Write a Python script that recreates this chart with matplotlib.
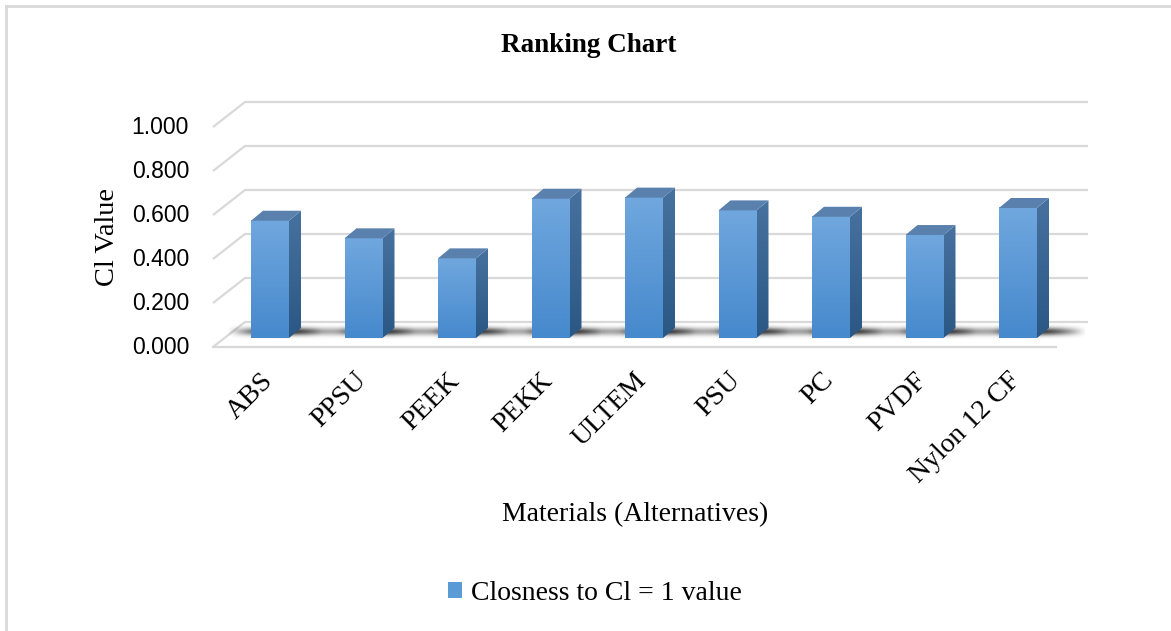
import numpy as np
import matplotlib
matplotlib.use('Agg')
import matplotlib.pyplot as plt
from matplotlib.patches import Polygon, Patch
from matplotlib.colors import to_rgb

# data
materials = ['ABS', 'PPSU', 'PEEK', 'PEKK', 'ULTEM', 'PSU', 'PC', 'PVDF', 'Nylon 12 CF']
cl_values = [0.533, 0.453, 0.362, 0.633, 0.638, 0.580, 0.551, 0.468, 0.591]
y_ticks = [0.0, 0.2, 0.4, 0.6, 0.8, 1.0]

W, H = 1171, 631
SERIF = 'Liberation Serif'

fig = plt.figure(figsize=(W / 100, H / 100), dpi=100)
ax = fig.add_axes([0, 0, 1, 1])
ax.axis('off')

# 像素比例: 每个类别 93.5 px, 每单位数值 220 px
sx, sy = 93.5, 220.0
x0_px, y0_px = 270, 338


def px(d):
    return d / sx


def py(d):
    return d / sy


# 3D 墙面/地板的偏移
bw = py(16)      # back wall above bar front plane
fw = py(-9)      # front floor edge
back_l, back_r = px(245 - 270), px(1088 - 270)
front_l, front_r = px(213 - 270), px(1056 - 270)

grid_c = '#d9d9d9'
for t in y_ticks:
    ax.plot([front_l, back_l, back_r], [t + fw, t + bw, t + bw],
            color=grid_c, lw=1.6, zorder=1, solid_capstyle='butt')
    ax.text(front_l - px(24), t + fw, f'{t:.3f}', ha='right', va='center',
            fontsize=16.5, family='Liberation Sans', color='#000000')
ax.plot([front_l, front_r], [fw, fw], color=grid_c, lw=1.6, zorder=1)

# bars
w = px(38)
ddx, ddy = px(12), py(10)
front_top, front_bot = np.array(to_rgb('#70a7de')), np.array(to_rgb('#4689cd'))
side_top, side_bot = np.array(to_rgb('#47729f')), np.array(to_rgb('#2b5784'))
top_c = '#5a81ae'

n = 64
g = np.linspace(0, 1, n)[:, None]
front_img = (front_top * (1 - g) + front_bot * g)[:, None, :]
side_img = (side_top * (1 - g) + side_bot * g)[:, None, :]

# 阴影
sh_w, sh_h = 200, 30
ux = np.linspace(-1, 1, sh_w)[None, :]
uy = np.linspace(-1, 1, sh_h)[:, None]
shadow = np.zeros((sh_h, sh_w, 4))
shadow[..., 3] = 0.8 * np.clip(1 - np.abs(ux) ** 2, 0, 1) ** 1.2 * np.exp(-3.5 * uy ** 2)

for i, v in enumerate(cl_values):
    xl, xr = i - w / 2, i + w / 2
    ax.imshow(shadow, extent=(xl - px(24), xr + px(50), py(-1), py(14)),
              aspect='auto', zorder=2, interpolation='bilinear')
    ax.imshow(front_img, extent=(xl, xr, 0, v), aspect='auto', zorder=3,
              interpolation='bilinear')
    side = [(xr, 0), (xr + ddx, ddy), (xr + ddx, v + ddy), (xr, v)]
    im = ax.imshow(side_img, extent=(xr, xr + ddx, 0, v + ddy), aspect='auto',
                   zorder=3, interpolation='bilinear')
    im.set_clip_path(Polygon(side, closed=True, transform=ax.transData))
    top = [(xl, v), (xl + ddx, v + ddy), (xr + ddx, v + ddy), (xr, v)]
    ax.add_patch(Polygon(top, closed=True, facecolor=top_c, edgecolor='none', zorder=3))
    ax.text(i - px(10), py(-30), materials[i], rotation=45, ha='right', va='top',
            rotation_mode='anchor', fontsize=20, family=SERIF)

ax.set_xlim(-x0_px / sx, (W - x0_px) / sx)
ax.set_ylim((y0_px - H) / sy, y0_px / sy)

fig.text(589 / W, 1 - 45 / H, 'Ranking Chart', ha='center', va='center',
         fontsize=19.5, fontweight='bold', family=SERIF)
fig.text(107 / W, 1 - 237 / H, 'Cl Value', rotation=90, ha='center', va='center',
         fontsize=20.5, family=SERIF)
fig.text(635 / W, 1 - 515 / H, 'Materials (Alternatives)', ha='center', va='center',
         fontsize=20, family=SERIF)

fig.legend(handles=[Patch(facecolor='#5b9bd5', label='Closness to Cl = 1 value')],
           loc='center', bbox_to_anchor=(595 / W, 1 - 593 / H), frameon=False,
           handlelength=0.5, handleheight=0.5, handletextpad=0.3,
           prop={'family': SERIF, 'size': 20})

# 边框
fig.add_artist(plt.Line2D([6 / W, 6 / W], [0, 1 - 6 / H], transform=fig.transFigure,
                          color=grid_c, lw=2))
fig.add_artist(plt.Line2D([6 / W, 1], [1 - 6 / H, 1 - 6 / H], transform=fig.transFigure,
                          color=grid_c, lw=2))

fig.savefig('out.png', dpi=100)
